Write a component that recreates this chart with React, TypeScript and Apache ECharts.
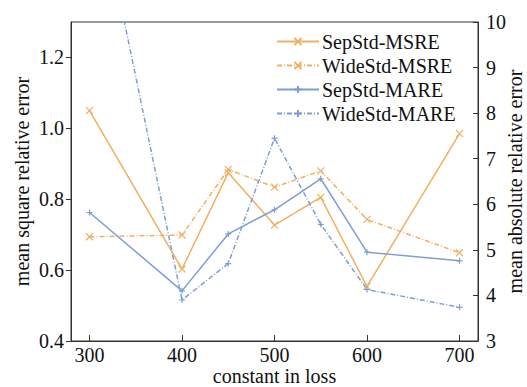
import React, { useEffect, useRef } from "react";
import * as echarts from "echarts";

const xValues = [300, 400, 450, 500, 550, 600, 700];
const xTicks = [300, 400, 500, 600, 700];
const leftTicks = [0.4, 0.6, 0.8, 1.0, 1.2];
const sepStdMSRE = [1.05, 0.603, 0.875, 0.727, 0.805, 0.554, 0.985];
const wideStdMSRE = [0.694, 0.699, 0.884, 0.834, 0.88, 0.743, 0.649];
const sepStdMARE = [5.82, 4.1, 5.35, 5.88, 6.56, 4.95, 4.76];
const wideStdMARE = [13.7, 3.9, 4.7, 7.45, 5.56, 4.13, 3.74];

const ORANGE = "#F0B062";
const BLUE = "#7F9ED2";
const FONT = "Liberation Serif";
const FS = 20;
const DASHDOT = [5, 2, 1, 2];
const XMARK = "path://M0,0L10,10M10,0L0,10";
const PLUS = "path://M5,0L5,10M0,5L10,5";

function pairs(vals: number[]) {
  return xValues.map((x, i) => [x, vals[i]]);
}

export default function App() {
  const ref = useRef<HTMLDivElement>(null);
  useEffect(() => {
    if (!ref.current) return;
    const chart = echarts.init(ref.current, undefined, { renderer: "svg" });
    const mk = (name: string, data: number[], color: string, dash: boolean, sym: string, yi: number) => ({
      name,
      type: "line",
      yAxisIndex: yi,
      data: pairs(data),
      symbol: sym,
      symbolSize: sym === XMARK ? 7 : 6,
      clip: true,
      lineStyle: { color, width: 1.5, type: dash ? DASHDOT : "solid" },
      itemStyle: { color: "none", borderColor: color, borderWidth: 1.2 },
      emphasis: { disabled: true },
    });
    const txt = { fontFamily: FONT, fontSize: FS, color: "#111" };
    chart.setOption({
      animation: false,
      textStyle: { fontFamily: FONT },
      grid: {
        left: 71,
        right: 49,
        top: 22,
        bottom: 46,
        show: true,
        borderColor: "#333",
        borderWidth: 1,
        containLabel: false,
        outerBoundsMode: "none",
      },
      legend: {
        left: 271,
        top: 26,
        orient: "vertical",
        itemGap: 3,
        itemWidth: 42,
        itemHeight: 9,
        textStyle: { ...txt, lineHeight: 21, padding: [0, 0, 0, -2] },
        data: ["SepStd-MSRE", "WideStd-MSRE", "SepStd-MARE", "WideStd-MARE"],
      },
      xAxis: {
        type: "value",
        min: 280,
        max: 720,
        name: "constant in loss",
        nameLocation: "middle",
        nameGap: 25,
        nameMoveOverlap: false,
        nameTextStyle: txt,
        axisLine: { lineStyle: { color: "#333" } },
        axisTick: { inside: true, length: 6, customValues: xTicks, lineStyle: { color: "#333" } },
        axisLabel: { ...txt, customValues: xTicks, margin: 4 },
        splitLine: { show: false },
      },
      yAxis: [
        {
          type: "value",
          min: 0.4,
          max: 1.3,
          name: "mean square relative error",
          nameLocation: "middle",
          nameGap: 39,
          nameMoveOverlap: false,
          nameTextStyle: txt,
          axisLine: { show: true, lineStyle: { color: "#333" } },
          axisTick: { show: true, length: 5, customValues: leftTicks, lineStyle: { color: "#333" } },
          axisLabel: {
            ...txt,
            customValues: leftTicks,
            formatter: (v: number) => v.toFixed(1),
            margin: 7,
          },
          splitLine: { show: false },
        },
        {
          type: "value",
          min: 3,
          max: 10,
          interval: 1,
          position: "right",
          name: "mean absolute relative error",
          nameLocation: "middle",
          nameGap: 27,
          nameMoveOverlap: false,
          nameRotate: 90,
          nameTextStyle: txt,
          axisLine: { show: true, lineStyle: { color: "#333" } },
          axisTick: { show: true, inside: true, length: 5, lineStyle: { color: "#333" } },
          axisLabel: { ...txt, margin: 8 },
          splitLine: { show: false },
        },
      ],
      series: [
        mk("SepStd-MSRE", sepStdMSRE, ORANGE, false, XMARK, 0),
        mk("WideStd-MSRE", wideStdMSRE, ORANGE, true, XMARK, 0),
        mk("SepStd-MARE", sepStdMARE, BLUE, false, PLUS, 1),
        mk("WideStd-MARE", wideStdMARE, BLUE, true, PLUS, 1),
      ],
    });
    return () => chart.dispose();
  }, []);
  return <div ref={ref} style={{ width: 527, height: 387, position: "absolute", left: 0, top: 0 }} />;
}
